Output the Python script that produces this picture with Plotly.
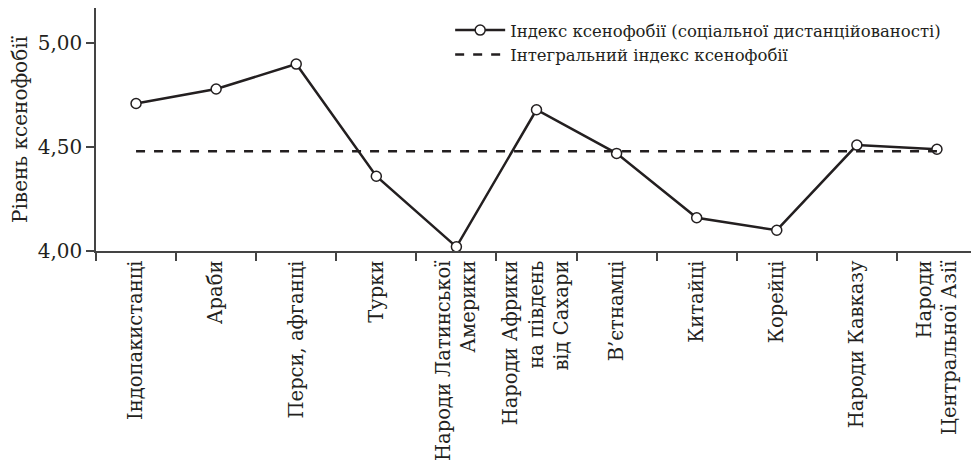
import plotly.graph_objects as go

categories = [
    "Індопакистанці", "Араби", "Перси, афганці", "Турки",
    "Народи Латинської<br>Америки", "Народи Африки<br>на південь<br>від Сахари",
    "В’єтнамці", "Китайці", "Корейці", "Народи Кавказу",
    "Народи<br>Центральної Азії",
]
xenophobia_index = [4.71, 4.78, 4.90, 4.36, 4.02, 4.68, 4.47, 4.16, 4.10, 4.51, 4.49]
integral_index = 4.48
integral_values = [integral_index] * len(categories)
y_ticks = [4.00, 4.50, 5.00]

FONT = "DejaVu Serif"
INK = "#231f20"

fig = go.Figure()
fig.add_trace(go.Scatter(
    x=categories, y=xenophobia_index, mode="lines+markers",
    name="Індекс ксенофобії (соціальної дистанційованості)",
    line=dict(color=INK, width=2.5),
    marker=dict(symbol="circle", size=10, color="white", line=dict(color=INK, width=1.5)),
))
fig.add_trace(go.Scatter(
    x=categories, y=integral_values, mode="lines",
    name="Інтегральний індекс ксенофобії",
    line=dict(color=INK, width=2.5, dash="dash"),
))

# page body has an 8px margin, so the figure is sized to fit inside the window
fig.update_layout(
    width=971, height=467,
    margin=dict(l=88, r=2, t=0, b=224, autoexpand=False),
    paper_bgcolor="white", plot_bgcolor="white",
    separators=", ",
    font=dict(family=FONT, size=18, color=INK),
    showlegend=True,
    legend=dict(x=0.402, y=0.98, xanchor="left", yanchor="top",
                bgcolor="rgba(0,0,0,0)", font=dict(size=16.5, family=FONT, color=INK),
                itemwidth=50, tracegroupgap=0),
)
fig.update_xaxes(
    type="category", range=[-0.5, len(categories) - 0.5], automargin=False,
    tickangle=-90, tickson="boundaries", ticks="outside", ticklen=8,
    tickcolor="#444", tickwidth=1.5,
    showline=True, linecolor="#444", linewidth=1.5, mirror=True,
    showgrid=False, tickfont=dict(size=19.5, family=FONT, color=INK),
)
fig.update_yaxes(
    range=[4.0, 5.17], tickvals=y_ticks, tickformat=".2f", automargin=False,
    ticks="outside", ticklen=8, tickcolor="#444", tickwidth=1.5,
    showline=True, linecolor="#444", linewidth=1.5, mirror=True,
    showgrid=False, zeroline=False,
    tickfont=dict(size=20, family=FONT, color=INK),
    title=dict(text="Рівень ксенофобії", font=dict(size=20, family=FONT, color=INK), standoff=14),
)

fig.write_html("out.html")
